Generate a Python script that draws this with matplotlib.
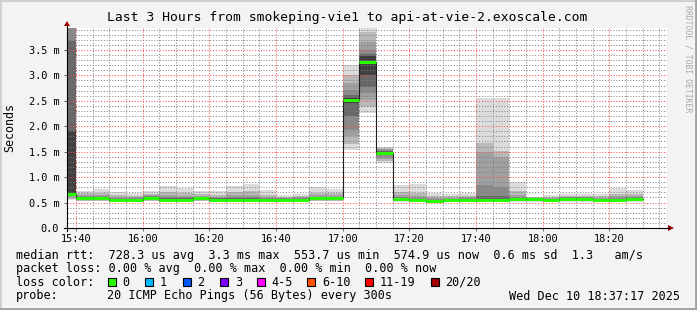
import matplotlib
matplotlib.use('Agg')
import matplotlib.pyplot as plt
from matplotlib.patches import Rectangle
import numpy as np

plt.rcParams['font.family'] = 'DejaVu Sans Mono'

W, H = 697, 310

title = "Last 3 Hours from smokeping-vie1 to api-at-vie-2.exoscale.com"

# 5 minute rounds, start time of each round
bin_start = ["15:35", "15:40", "15:45", "15:50", "15:55", "16:00", "16:05", "16:10",
             "16:15", "16:20", "16:25", "16:30", "16:35", "16:40", "16:45", "16:50",
             "16:55", "17:00", "17:05", "17:10", "17:15", "17:20", "17:25", "17:30",
             "17:35", "17:40", "17:45", "17:50", "17:55", "18:00", "18:05", "18:10",
             "18:15", "18:20", "18:25"]

# median rtt in ms
median_ms = [0.66, 0.58, 0.58, 0.55, 0.55, 0.58, 0.55, 0.55, 0.58, 0.56,
             0.56, 0.56, 0.55, 0.55, 0.55, 0.58, 0.58, 2.51, 3.26, 1.48,
             0.57, 0.55, 0.54, 0.55, 0.55, 0.55, 0.55, 0.57, 0.57, 0.55,
             0.57, 0.57, 0.55, 0.55, 0.57]

# smoke: upper ping values per round, outer -> inner
smoke_hi = [
    [4.50, 4.50, 4.50, 4.50, 3.67, 1.90],
    [0.73, 0.68, 0.64, 0.62, 0.60, 0.59],
    [0.77, 0.69, 0.64, 0.62, 0.60, 0.59],
    [0.71, 0.64, 0.61, 0.59, 0.57, 0.56],
    [0.69, 0.63, 0.60, 0.58, 0.57, 0.56],
    [0.73, 0.67, 0.64, 0.62, 0.60, 0.59],
    [0.83, 0.70, 0.64, 0.60, 0.58, 0.56],
    [0.79, 0.69, 0.63, 0.60, 0.58, 0.56],
    [0.73, 0.66, 0.63, 0.61, 0.60, 0.59],
    [0.73, 0.65, 0.61, 0.59, 0.58, 0.57],
    [0.83, 0.70, 0.64, 0.60, 0.58, 0.57],
    [0.87, 0.72, 0.64, 0.61, 0.58, 0.57],
    [0.75, 0.65, 0.61, 0.59, 0.57, 0.56],
    [0.65, 0.61, 0.59, 0.58, 0.57, 0.56],
    [0.67, 0.62, 0.60, 0.58, 0.57, 0.56],
    [0.80, 0.69, 0.64, 0.61, 0.60, 0.59],
    [0.77, 0.68, 0.64, 0.61, 0.60, 0.59],
    [3.20, 3.01, 2.85, 2.71, 2.62, 2.55],
    [4.30, 3.85, 3.65, 3.50, 3.42, 3.37],
    [1.60, 1.58, 1.56, 1.54, 1.52, 1.50],
    [0.85, 0.71, 0.65, 0.61, 0.59, 0.58],
    [0.87, 0.69, 0.63, 0.59, 0.57, 0.56],
    [0.69, 0.62, 0.59, 0.57, 0.56, 0.55],
    [0.67, 0.62, 0.59, 0.57, 0.56, 0.56],
    [0.69, 0.63, 0.60, 0.58, 0.57, 0.56],
    [2.55, 1.67, 1.50, 0.85, 0.62, 0.57],
    [2.55, 1.51, 1.40, 0.81, 0.62, 0.57],
    [0.90, 0.72, 0.65, 0.61, 0.59, 0.58],
    [0.61, 0.60, 0.59, 0.585, 0.58, 0.58],
    [0.64, 0.61, 0.59, 0.57, 0.56, 0.56],
    [0.67, 0.63, 0.61, 0.60, 0.59, 0.58],
    [0.67, 0.63, 0.61, 0.60, 0.59, 0.58],
    [0.67, 0.62, 0.59, 0.57, 0.56, 0.56],
    [0.79, 0.67, 0.62, 0.59, 0.57, 0.56],
    [0.75, 0.67, 0.63, 0.60, 0.59, 0.58],
]

# smoke: lower ping values per round, outer -> inner
smoke_lo = [
    [0.55, 0.57, 0.60, 0.62, 0.63, 0.64],
    [0.53, 0.54, 0.55, 0.56, 0.57, 0.575],
    [0.53, 0.54, 0.55, 0.56, 0.57, 0.575],
    [0.51, 0.52, 0.53, 0.535, 0.54, 0.545],
    [0.51, 0.52, 0.53, 0.535, 0.54, 0.545],
    [0.53, 0.54, 0.55, 0.56, 0.57, 0.575],
    [0.51, 0.52, 0.53, 0.535, 0.54, 0.545],
    [0.51, 0.52, 0.53, 0.535, 0.54, 0.545],
    [0.53, 0.54, 0.55, 0.56, 0.57, 0.575],
    [0.51, 0.52, 0.53, 0.54, 0.545, 0.55],
    [0.51, 0.52, 0.53, 0.54, 0.545, 0.55],
    [0.51, 0.52, 0.53, 0.54, 0.545, 0.55],
    [0.51, 0.52, 0.53, 0.535, 0.54, 0.545],
    [0.51, 0.52, 0.53, 0.535, 0.54, 0.545],
    [0.51, 0.52, 0.53, 0.535, 0.54, 0.545],
    [0.53, 0.54, 0.55, 0.56, 0.57, 0.575],
    [0.53, 0.54, 0.55, 0.56, 0.57, 0.575],
    [1.53, 1.66, 1.80, 1.92, 2.20, 2.45],
    [2.25, 2.38, 2.52, 2.65, 2.78, 3.00],
    [1.28, 1.32, 1.36, 1.40, 1.43, 1.45],
    [0.52, 0.53, 0.54, 0.55, 0.56, 0.565],
    [0.51, 0.52, 0.53, 0.535, 0.54, 0.545],
    [0.50, 0.51, 0.52, 0.525, 0.53, 0.535],
    [0.51, 0.52, 0.53, 0.535, 0.54, 0.545],
    [0.51, 0.52, 0.53, 0.535, 0.54, 0.545],
    [0.51, 0.52, 0.53, 0.535, 0.54, 0.545],
    [0.51, 0.52, 0.53, 0.535, 0.54, 0.545],
    [0.52, 0.53, 0.54, 0.55, 0.56, 0.565],
    [0.52, 0.53, 0.54, 0.55, 0.56, 0.565],
    [0.51, 0.52, 0.53, 0.535, 0.54, 0.545],
    [0.52, 0.53, 0.54, 0.55, 0.56, 0.565],
    [0.52, 0.53, 0.54, 0.55, 0.56, 0.565],
    [0.51, 0.52, 0.53, 0.535, 0.54, 0.545],
    [0.51, 0.52, 0.53, 0.535, 0.54, 0.545],
    [0.52, 0.53, 0.54, 0.55, 0.56, 0.565],
]

smoke_colors = ['#dcdcdc', '#b8b8b8', '#a0a0a0', '#8a8a8a', '#686868', '#404040']

y_ticks = [0.0, 0.5, 1.0, 1.5, 2.0, 2.5, 3.0, 3.5]
y_labels = ['0.0', '0.5 m', '1.0 m', '1.5 m', '2.0 m', '2.5 m', '3.0 m', '3.5 m']
x_labels = ['15:40', '16:00', '16:20', '16:40', '17:00', '17:20', '17:40', '18:00', '18:20']

rtt_avg, rtt_max, rtt_min, rtt_now = "728.3 us", "3.3 ms", "553.7 us", "574.9 us"
rtt_sd, rtt_ams = "0.6 ms", "1.3"
loss_avg, loss_max, loss_min, loss_now = "0.00", "0.00", "0.00", "0.00"
loss_names = ['0', '1', '2', '3', '4-5', '6-10', '11-19', '20/20']
loss_colors = ['#26ff00', '#00b8ff', '#0059ff', '#7e00ff', '#ff00ff', '#ff5500', '#ff0000', '#a10000']
probe_text = "20 ICMP Echo Pings (56 Bytes) every 300s"
stamp = "Wed Dec 10 18:37:17 2025"


def to_min(s):
    h, m = s.split(':')
    return int(h) * 60 + int(m)


t_end = 18 * 60 + 37 + 17 / 60
t_start = t_end - 180

fig = plt.figure(figsize=(W / 100, H / 100), dpi=100, facecolor='#f3f3f3')
ax = fig.add_axes([67 / W, 1 - 228 / H, 600 / W, 200 / H])
ax.set_facecolor('white')

starts = np.array([to_min(s) for s in bin_start], dtype=float)
hi = np.array(smoke_hi)
lo = np.array(smoke_lo)
med = np.array(median_ms)

for k, c in enumerate(smoke_colors):
    ax.bar(starts, hi[:, k] - lo[:, k], bottom=lo[:, k], width=5, align='edge',
           color=c, linewidth=0, zorder=1)

# dark step line and green median bands
ax.step(np.append(starts, starts[-1] + 5), np.append(med, med[-1]), where='post',
        color='#202020', lw=0.8, zorder=4)
ax.hlines(med, starts, starts + 5, color=loss_colors[0], lw=2.2, zorder=5)

ax.set_xlim(t_start, t_end)
ax.set_ylim(0, 3.93)
ax.set_xticks([to_min(s) for s in x_labels])
ax.set_xticklabels(x_labels)
ax.set_xticks([m for m in range(940, 1118, 5) if (m - 940) % 20], minor=True)
ax.set_yticks(y_ticks)
ax.set_yticklabels(y_labels)
ax.set_yticks([k / 10 for k in range(40) if k % 5], minor=True)
ax.set_axisbelow(False)
ax.grid(which='minor', color=(0.5, 0.5, 0.5, 0.24), lw=0.72, linestyle=(0, (1, 1.8)))
ax.grid(which='major', color=(1.0, 0.3, 0.3, 0.42), lw=0.72, linestyle=(0, (1, 1.8)))
for axis in (ax.xaxis, ax.yaxis):
    for t in axis.get_major_ticks() + axis.get_minor_ticks():
        t.gridline.set_snap(True)
ax.tick_params(which='major', length=2, width=0.7, color='#606060', labelsize=7.4)
ax.tick_params(which='minor', length=0)
ax.tick_params(axis='y', pad=3.6)
ax.tick_params(axis='x', pad=2.5)
for s in ax.spines.values():
    s.set_visible(False)

# overlay in pixel coordinates for frame, axes and legend
ov = fig.add_axes([0, 0, 1, 1], zorder=10)
ov.set_xlim(0, W)
ov.set_ylim(H, 0)
ov.axis('off')
ov.patch.set_alpha(0)

ov.plot([0, W], [1, 1], color='#d0d0d0', lw=1.5)
ov.plot([1, 1], [0, H], color='#d0d0d0', lw=1.5)
ov.plot([0, W], [H - 1.2, H - 1.2], color='#a0a0a0', lw=2)
ov.plot([W - 1.2, W - 1.2], [0, H], color='#a0a0a0', lw=2)

ov.plot([64, 669], [228, 228], color='black', lw=0.8)
ov.plot([67, 67], [231, 26], color='black', lw=0.8)
ov.fill([668, 674, 668], [225, 228, 231], color='#a00000', lw=0)
ov.fill([64, 67, 70], [26, 21, 26], color='#a00000', lw=0)

ov.text(347.5, 18, title, ha='center', va='center', fontsize=9.4, color='black')
ov.text(10, 127, 'Seconds', ha='center', va='center', rotation=90, fontsize=8.4)
ov.text(688, 5, 'RRDTOOL / TOBI OETIKER', ha='center', va='top', rotation=270,
        fontsize=5.9, color='#a8a8a8')

fs = 8.5
row1 = ("median rtt:  %s avg  %s max  %s min  %s now  %s sd  %s   am/s"
        % (rtt_avg, rtt_max, rtt_min, rtt_now, rtt_sd, rtt_ams))
row2 = ("packet loss: %s %% avg  %s %% max  %s %% min  %s %% now"
        % (loss_avg, loss_max, loss_min, loss_now))
ov.text(16, 255, row1, va='center', fontsize=fs)
ov.text(16, 268.5, row2, va='center', fontsize=fs)
ov.text(16, 282, 'loss color:', va='center', fontsize=fs)
box_x = [108, 145.3, 182.7, 220, 256.7, 307.3, 365, 430.7]
for bx, name, c in zip(box_x, loss_names, loss_colors):
    ov.add_patch(Rectangle((bx, 278), 8, 8, facecolor=c, edgecolor='black', lw=0.8))
    ov.text(bx + 14.7, 282, name, va='center', fontsize=fs)
ov.text(16, 296, 'probe:', va='center', fontsize=fs)
ov.text(107.3, 296, probe_text, va='center', fontsize=fs)
ov.text(680, 296, stamp, va='center', ha='right', fontsize=fs)

fig.savefig('out.png', dpi=100, facecolor=fig.get_facecolor())
